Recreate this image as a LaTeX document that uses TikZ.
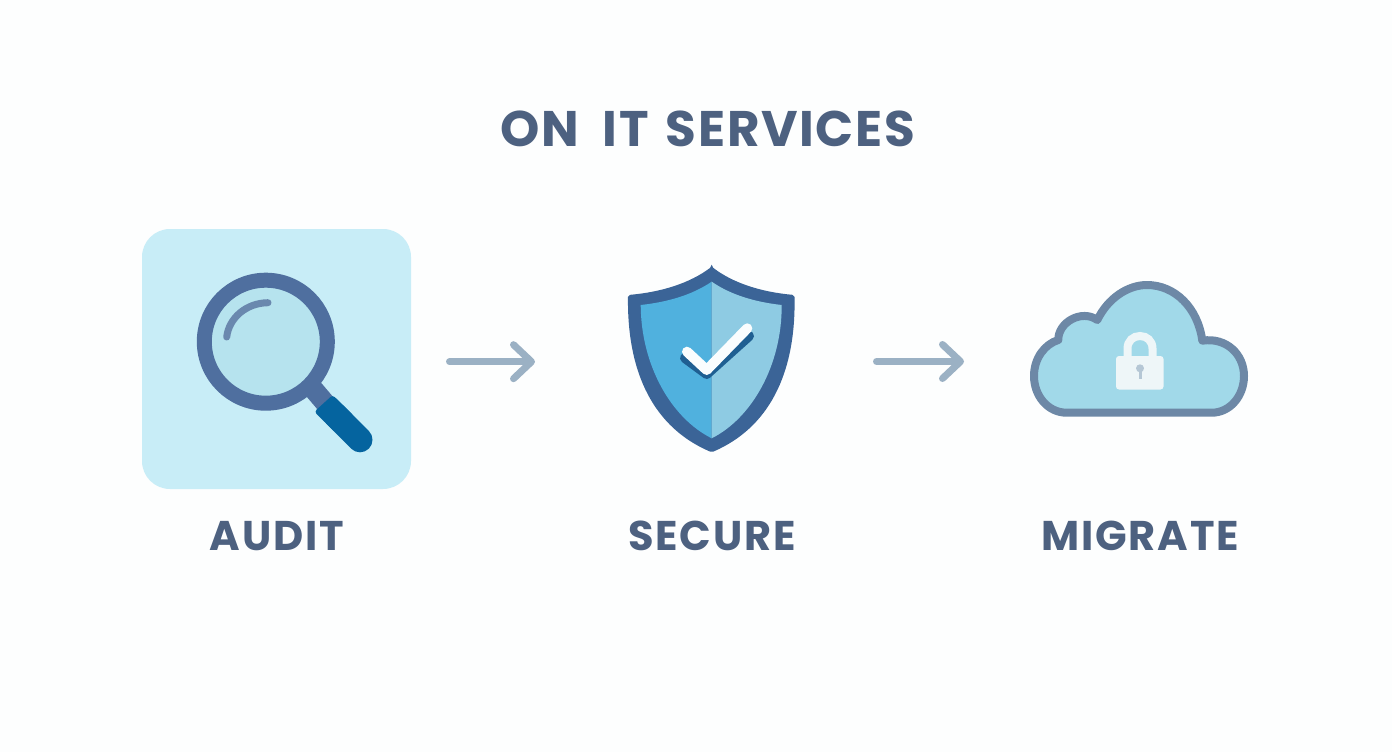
\documentclass[tikz,border=0pt]{standalone}
\usepackage{fontspec}
\usetikzlibrary{arrows.meta}
\newfontfamily\headfont[LetterSpace=3.3]{Poppins Bold}
\newfontfamily\capfont[LetterSpace=4.5]{Poppins Bold}
\definecolor{txt}{HTML}{4D6180}
\definecolor{tile}{HTML}{C8EDF7}
\definecolor{lens}{HTML}{B6E3EE}
\definecolor{ring}{HTML}{4F6F9F}
\definecolor{shine}{HTML}{6A88AE}
\definecolor{grip}{HTML}{05649F}
\definecolor{arrowc}{HTML}{9BB1C4}
\definecolor{shieldout}{HTML}{3B6497}
\definecolor{shieldl}{HTML}{50B1DE}
\definecolor{shieldr}{HTML}{8ECBE3}
\definecolor{tickshadow}{HTML}{1F5F92}
\definecolor{cloudline}{HTML}{6D88A6}
\definecolor{cloudfill}{HTML}{A1D9E9}
\definecolor{lockc}{HTML}{EEF6F8}
\definecolor{keyc}{HTML}{B5C7D5}
\definecolor{paper}{HTML}{FDFEFE}
\tikzset{
  x=1pt,y=-1pt,
  title/.style={font=\headfont\fontsize{50}{50}\selectfont,text=txt,inner sep=0pt,anchor=center},
  caption/.style={font=\capfont\fontsize{41.5}{41.5}\selectfont,text=txt,inner sep=0pt,anchor=center},
  flow/.style={draw=arrowc,line width=7pt,line cap=round,-{Straight Barb[round,length=18pt,width=34pt,line width=7pt]}}
}
\begin{document}
\begin{tikzpicture}
\useasboundingbox (0,0) rectangle (1392,752);
\fill[paper] (0,0) rectangle (1392,752);
\node[title] (head) at (708,129) {ON\hspace{11pt} IT\hspace{5pt} SERVICES};
% audit tile
\fill[tile,rounded corners=28pt] (142,229) rectangle (411,489);
\draw[ring,line width=20pt] (309,384) -- (326,404);
\fill[grip,rounded corners=3pt] (314.3,411.7) -- (332.7,395) -- (354,416) -- (335.6,432.7) -- cycle;
\draw[grip,line width=25pt,line cap=round] (335,414.7) -- (360,439.8);
\draw[ring,line width=15pt,fill=lens] (265.8,341.7) circle[radius=61.5];
\draw[shine,line width=7pt,line cap=round] (226.7,337) .. controls (229,318) and (246,303) .. (268,302.7);
\node[caption] (audit) at (277,536) {AUDIT};
% arrows
\coordinate (a1s) at (449.5,361.7);
\coordinate (a1e) at (535,361.7);
\draw[flow] (a1s) -- (a1e);
\coordinate (a2s) at (876.5,361.5);
\coordinate (a2e) at (964,361.5);
\draw[flow] (a2s) -- (a2e);
% shield
\fill[shieldout,rounded corners=2pt] (711.7,266.7) .. controls (690,283) and (662,292) .. (628,295)
  .. controls (627,375) and (655,428) .. (711.7,452.3)
  .. controls (768,428) and (796,375) .. (794.5,295)
  .. controls (761,292) and (733,283) .. (711.7,266.7) -- cycle;
\fill[shieldl] (711.7,281.7) .. controls (692,295) and (668,302) .. (640.7,305)
  .. controls (641,365) and (671,418) .. (711.7,438.3) -- cycle;
\fill[shieldr] (711.7,281.7) .. controls (731,295) and (755,302) .. (781.7,305)
  .. controls (782,365) and (752,418) .. (711.7,438.3) -- cycle;
\draw[tickshadow,line width=10pt,line cap=round,line join=round] (685,358) -- (706.7,374) -- (749,336);
\draw[white!96!shieldr,line width=10pt,line cap=round,line join=round] (687,351.7) -- (706.7,370) -- (747.3,328.3);
\node[caption] (secure) at (712,536) {SECURE};
% cloud
\draw[cloudline,fill=cloudfill,line width=8pt,line join=round]
  (1066.7,412.7) .. controls (1048,412.7) and (1034,396) .. (1034,376)
  .. controls (1034,358) and (1045,344) .. (1058.3,340)
  .. controls (1058,322) and (1082,309) .. (1097.3,320)
  .. controls (1108,298) and (1128,285) .. (1147,285)
  .. controls (1175,285) and (1198,308) .. (1202.3,340.7)
  .. controls (1226,337) and (1244,354) .. (1244,376)
  .. controls (1244,396) and (1230,412.7) .. (1211.7,412.7) -- cycle;
\draw[lockc,line width=8pt] (1127.5,358) -- (1127.5,348.5) .. controls (1127.5,341) and (1133,336) .. (1140,336) .. controls (1147,336) and (1152.5,341) .. (1152.5,348.5) -- (1152.5,358);
\fill[lockc,rounded corners=3pt] (1116,356) rectangle (1163.5,389.5);
\fill[keyc] (1140,368.3) circle[radius=4pt];
\draw[keyc,line width=3pt] (1140,369) -- (1140,379);
\node[caption] (migrate) at (1140,536) {MIGRATE};
\end{tikzpicture}
\end{document}
